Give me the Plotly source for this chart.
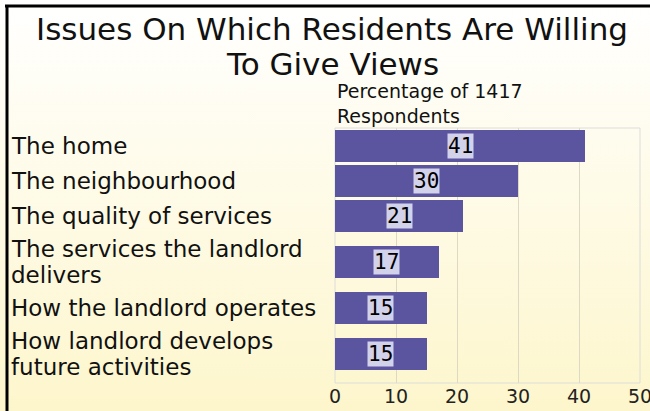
import base64
import plotly.graph_objects as go

# data
title_lines = ["Issues On Which Residents Are Willing", "To Give Views"]
issues = [
    "The home",
    "The neighbourhood",
    "The quality of services",
    "The services the landlord\ndelivers",
    "How the landlord operates",
    "How landlord develops\nfuture activities",
]
percent = [41, 30, 21, 17, 15, 15]
x_ticks = [0, 10, 20, 30, 40, 50]

W, H = 650, 411
M = dict(l=335, r=10, t=128, b=28)
PW, PH = W - M['l'] - M['r'], H - M['t'] - M['b']

COLORS = {
    'bar': '#5b559f',
    'label_bg': '#d2d2ea',
    'text': '#111111',
    'grid': '#ddd9c4',
    'plot_bg': 'rgba(255,255,246,0.6)',
}


def px_x(p):
    return (p - M['l']) / PW


def px_y(p):
    return (H - M['b'] - p) / PH


# two-line labels get a taller slot, like the original layout
slot = [1.63 if '\n' in s else 1.0 for s in issues]
centers = []
acc = 0.0
for h in slot:
    centers.append(acc + h / 2)
    acc += h
total = acc

fig = go.Figure()
fig.add_trace(go.Bar(
    x=percent, y=centers, orientation='h', width=0.91,
    marker=dict(color=COLORS['bar'], line=dict(width=0)),
    hoverinfo='x',
))

ann = []
for lab, c, v in zip(issues, centers, percent):
    lines = lab.split('\n')
    for i, ln in enumerate(lines):
        ann.append(dict(x=px_x(9), xref='paper', y=c, yref='y', text=ln, showarrow=False,
                        xanchor='left', yanchor='middle', align='left',
                        yshift=-(i - (len(lines) - 1) / 2) * 26,
                        font=dict(family='DejaVu Sans', size=23, color=COLORS['text'])))
    ann.append(dict(x=v / 2, xref='x', y=c, yref='y', text=str(v), showarrow=False,
                    bgcolor=COLORS['label_bg'], borderpad=0,
                    font=dict(family='DejaVu Sans Mono', size=21, color='#000')))
ann.append(dict(x=0, xref='paper', y=px_y(129), yref='paper', xanchor='left', yanchor='bottom',
                align='left', showarrow=False, text='Percentage of 1417<br>Respondents',
                font=dict(family='DejaVu Sans', size=19, color=COLORS['text'])))
for i, ln in enumerate(title_lines):
    ann.append(dict(x=px_x(332), xref='paper', y=px_y(29 + 35 * i), yref='paper',
                    xanchor='center', yanchor='middle', showarrow=False, text=ln,
                    font=dict(family='DejaVu Sans', size=31, color=COLORS['text'])))

# soft white-to-cream gradient behind everything
svg = ('<svg xmlns="http://www.w3.org/2000/svg" width="650" height="411">'
       '<defs><linearGradient id="g" x1="0" y1="0" x2="0" y2="1">'
       '<stop offset="0" stop-color="#ffffff"/><stop offset="1" stop-color="#fdf6cc"/>'
       '</linearGradient></defs><rect width="650" height="411" fill="url(#g)"/></svg>')
bg_src = 'data:image/svg+xml;base64,' + base64.b64encode(svg.encode()).decode()

fig.update_layout(
    width=W, height=H, margin=M,
    paper_bgcolor='#ffffff', plot_bgcolor=COLORS['plot_bg'],
    images=[dict(source=bg_src, xref='paper', yref='paper', x=px_x(0), y=px_y(0),
                 sizex=W / PW, sizey=H / PH, sizing='stretch', xanchor='left',
                 yanchor='top', layer='below')],
    xaxis=dict(range=[0, 50], tickvals=x_ticks, showgrid=True, gridcolor=COLORS['grid'],
               zeroline=False, showline=False, ticks='', automargin=False,
               ticklabeloverflow='allow',
               tickfont=dict(family='DejaVu Sans', size=19, color='#222')),
    yaxis=dict(range=[total, 0], showticklabels=False, showgrid=False, zeroline=False,
               automargin=False),
    annotations=ann,
    shapes=[
        dict(type='rect', xref='paper', yref='paper', x0=0, x1=1, y0=0, y1=1,
             line=dict(color='#dcdcdc', width=1), layer='below'),
        dict(type='line', xref='paper', yref='paper', x0=px_x(7), x1=px_x(7),
             y0=px_y(5), y1=px_y(H + 5), line=dict(color='#000', width=3)),
        dict(type='line', xref='paper', yref='paper', x0=px_x(5), x1=px_x(W + 5),
             y0=px_y(6), y1=px_y(6), line=dict(color='#000', width=3)),
    ],
    showlegend=False,
    bargap=0,
)

fig.write_html('out.html', config={'displayModeBar': False},
               post_script="document.body.style.margin='0';")
